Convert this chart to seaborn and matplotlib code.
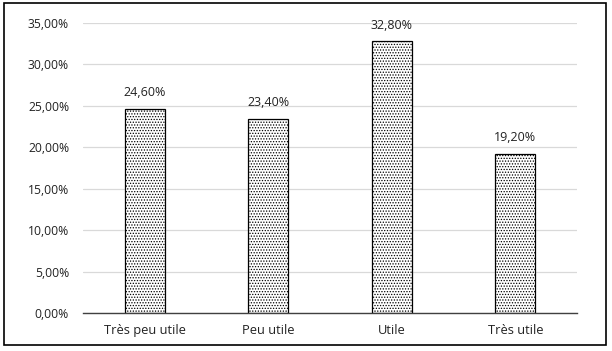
import matplotlib
matplotlib.use("Agg")
import matplotlib.pyplot as plt
import seaborn as sns
import pandas as pd
from matplotlib.patches import Rectangle
from matplotlib.ticker import FuncFormatter

categories = ["Très peu utile", "Peu utile", "Utile", "Très utile"]
values = [24.60, 23.40, 32.80, 19.20]
yticks = [0, 5, 10, 15, 20, 25, 30, 35]

sns.set_theme(style="white")
plt.rcParams['font.family'] = ['Open Sans', 'DejaVu Sans']
plt.rcParams['hatch.linewidth'] = 0.6

df = pd.DataFrame({"cat": categories, "val": values})

fig = plt.figure(figsize=(6.12, 3.51), dpi=100)
ax = fig.add_axes([83/612, 38/351, 494/612, 290/351])

sns.barplot(data=df, x="cat", y="val", ax=ax, color="white", width=0.32,
            edgecolor="black", linewidth=0.9, hatch="......")

ax.set_ylim(0, 35)
ax.set_yticks(yticks)
ax.yaxis.set_major_formatter(FuncFormatter(lambda v, p: f"{v:.2f}".replace(".", ",") + "%"))
ax.grid(axis="y", color="#d9d9d9", linewidth=0.9)
ax.set_axisbelow(True)
for s in ["top", "right", "left"]:
    ax.spines[s].set_visible(False)
ax.spines["bottom"].set_color("#404040")
ax.spines["bottom"].set_linewidth(1.0)
ax.set_xlabel("")
ax.set_ylabel("")
ax.tick_params(axis="y", length=0, labelsize=8.7, colors="#222222", pad=10)
ax.tick_params(axis="x", length=0, labelsize=9.3, colors="#222222", pad=8)

for i, v in enumerate(values):
    ax.annotate(f"{v:.2f}".replace(".", ",") + "%", (i, v), xytext=(0, 7),
                textcoords="offset points", ha="center", va="bottom",
                fontsize=9, color="#222222")

fig.patches.append(Rectangle((4/612, 6/351), 602/612, 342/351, transform=fig.transFigure,
                             fill=False, edgecolor="black", linewidth=1.2))

fig.savefig("out.png", dpi=100)
